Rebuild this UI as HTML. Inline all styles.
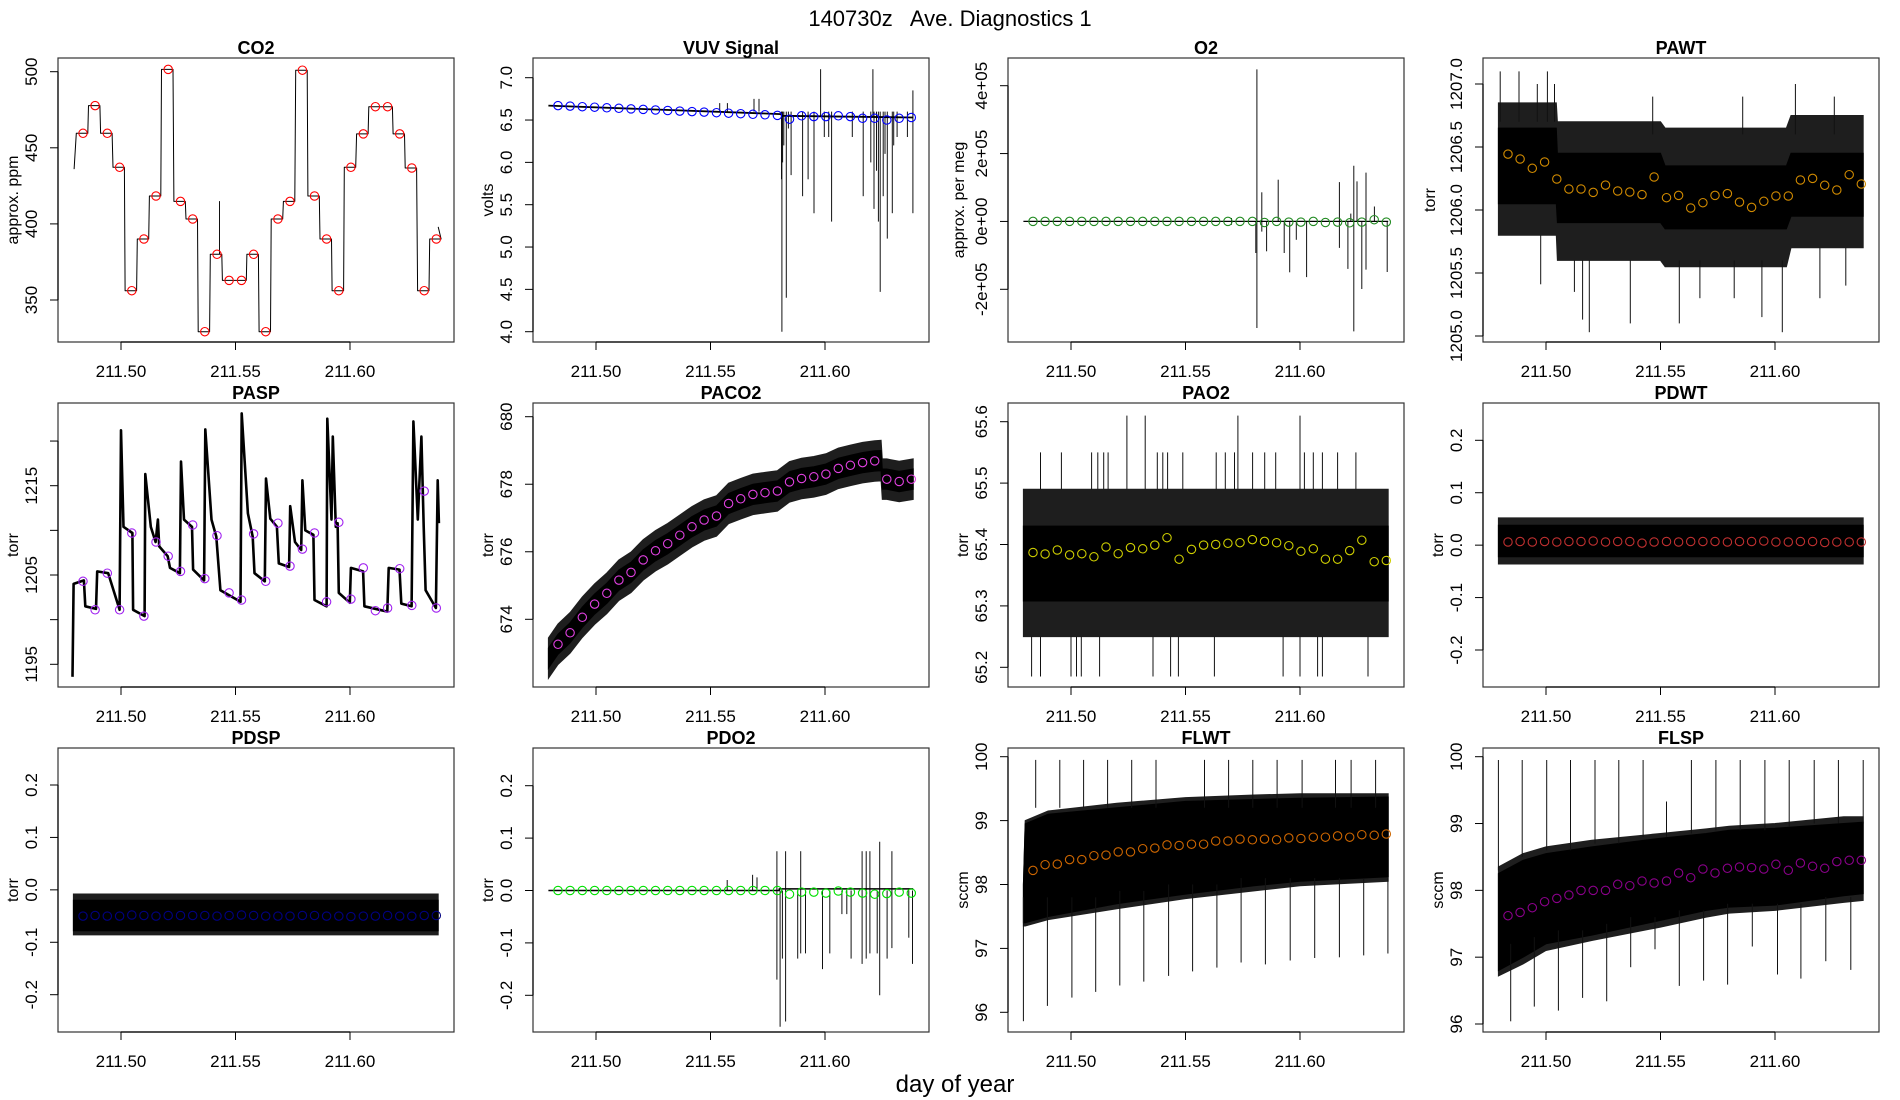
<!DOCTYPE html>
<html><head><meta charset="utf-8"><style>
html,body{margin:0;padding:0;background:#fff;}
svg{display:block;font-family:"Liberation Sans",Arial,sans-serif;}
</style></head><body>
<svg id="fig" width="1900" height="1100" viewBox="0 0 1900 1100" xmlns="http://www.w3.org/2000/svg">
<text x="950" y="26" text-anchor="middle" font-size="22" xml:space="preserve">140730z   Ave. Diagnostics 1</text>
<text x="955" y="1092" text-anchor="middle" font-size="24">day of year</text>
</svg>
<script>
// ---- shared data ----
const circT=[211.4834,211.4887,211.4940,211.4994,211.5047,211.5100,211.5153,211.5206,211.5260,211.5313,211.5366,211.5419,211.5472,211.5526,211.5579,211.5632,211.5685,211.5738,211.5792,211.5845,211.5898,211.5951,211.6004,211.6058,211.6111,211.6164,211.6217,211.6270,211.6324,211.6377];
const xTicks=[211.50,211.55,211.60];
const xTickLabels=["211.50","211.55","211.60"];
// CO2
const co2Vals=[459.5,477.7,459.5,437.2,356.1,390.1,418.3,501.5,414.8,403.2,329.2,380,362.9,362.9,380,329.2,403.2,414.8,501,418.3,390.1,356.1,437.2,459.1,477,477,459.1,436.7,356.1,390.1];
const co2Start=[436];const co2End=[398];
const co2SpikeT=[211.5430];const co2SpikeLo=[380];const co2SpikeHi=[415];
// VUV
const vuvVals=[6.67,6.664,6.657,6.651,6.645,6.638,6.632,6.626,6.619,6.613,6.606,6.600,6.594,6.587,6.581,6.575,6.568,6.562,6.555,6.51,6.55,6.54,6.54,6.55,6.54,6.52,6.52,6.50,6.52,6.53];
const vuvLineT=[211.4792,211.5808,211.5812,211.6385];
const vuvLineV=[6.67,6.57,6.55,6.53];
const vuvSpikeT=[211.5810,211.5812,211.5831,211.5852,211.5902,211.5926,211.5952,211.5997,211.6016,211.6029,211.6119,211.6167,211.6214,211.6233,211.6241,211.6254,211.6272,211.6294,211.6315,211.6360,211.6384,211.5981,211.6209,211.5540,211.5574,211.5690,211.5712,211.6384,211.5815,211.5820,211.5840,211.6200,211.6225,211.6262,211.6300];
const vuvSpikeLo=[5.8,4.0,4.4,5.85,5.6,5.8,5.4,6.3,6.3,5.3,6.3,5.6,5.45,5.3,4.47,5.6,5.1,5.4,6.3,6.3,5.4,6.55,6.55,6.6,6.6,6.6,6.6,6.55,6.0,6.2,6.4,6.0,5.9,6.1,6.2];
const vuvSpikeHi=[6.6,6.6,6.6,6.6,6.6,6.6,6.6,6.6,6.6,6.6,6.6,6.6,6.6,6.6,6.6,6.6,6.6,6.6,6.6,6.6,6.6,7.1,7.1,6.7,6.7,6.75,6.75,6.85,6.6,6.6,6.6,6.6,6.6,6.6,6.6];
// O2
const o2Vals=[0,0,0,0,0,0,0,0,0,0,0,0,0,0,0,0,0,0,0,-3000,0,-2000,-2000,0,-3000,-2000,-4000,-2000,5000,-2000];
const o2LineT=[211.4792,211.6385];const o2LineV=[0,0];
const o2SpikeT=[211.5812,211.5807,211.5833,211.5854,211.5905,211.5931,211.5955,211.5984,211.6029,211.6172,211.6209,211.6222,211.6235,211.6249,211.6270,211.6288,211.6325,211.6381,211.5701];
const o2SpikeLo=[-314000,-93000,-30000,-88000,0,-93000,-150000,-54000,-164000,-78000,-140000,0,-324000,0,-199000,-142000,0,-149000,-10000];
const o2SpikeHi=[448000,0,86000,0,123000,0,0,0,0,116000,0,23000,164000,118000,0,144000,44000,0,10000];
// PAWT
const pawtVals=[1206.444,1206.405,1206.331,1206.381,1206.246,1206.167,1206.167,1206.140,1206.198,1206.151,1206.143,1206.122,1206.262,1206.098,1206.116,1206.016,1206.058,1206.116,1206.130,1206.063,1206.021,1206.069,1206.111,1206.111,1206.238,1206.251,1206.196,1206.159,1206.280,1206.206];
const pawtBandT=[211.4792,211.5045,211.5050,211.5500,211.5520,211.6050,211.6070,211.6385];
const pawtInHi=[1206.65,1206.65,1206.45,1206.45,1206.35,1206.35,1206.45,1206.45];
const pawtInLo=[1206.05,1206.05,1205.9,1205.9,1205.85,1205.85,1205.95,1205.95];
const pawtOutHi=[1206.85,1206.85,1206.7,1206.7,1206.65,1206.65,1206.75,1206.75];
const pawtOutLo=[1205.8,1205.8,1205.6,1205.6,1205.55,1205.55,1205.7,1205.7];
const pawtSpikeT=[211.4800,211.4882,211.5006,211.4962,211.5037,211.6089,211.5466,211.5859,211.6259,211.4977,211.5160,211.5189,211.5368,211.5582,211.5672,211.5822,211.5943,211.6032,211.6196,211.6309,211.5124];
const pawtSpikeLo=[1206.7,1206.7,1206.7,1206.7,1206.7,1206.6,1206.6,1206.6,1206.6,1205.41,1205.13,1205.03,1205.1,1205.1,1205.3,1205.3,1205.15,1205.03,1205.3,1205.4,1205.35];
const pawtSpikeHi=[1207.1,1207.1,1207.1,1207.0,1207.0,1207.0,1206.9,1206.9,1206.9,1205.8,1205.6,1205.6,1205.6,1205.6,1205.6,1205.6,1205.6,1205.6,1205.7,1205.7,1205.6];
// PASP
const paspVals=[1204.3,1201.1,1205.2,1201.1,1209.7,1200.4,1208.7,1207.1,1205.4,1210.6,1204.6,1209.4,1203.0,1202.2,1209.6,1204.3,1210.8,1206.0,1207.9,1209.7,1202.0,1210.9,1202.3,1205.8,1201.0,1201.3,1205.7,1201.6,1214.4,1201.3];
const paspLineT=[211.4788,211.4793,211.4838,211.4844,211.4891,211.4896,211.4944,211.4994,211.5000,211.5011,211.5050,211.5053,211.5103,211.5106,211.5130,211.5151,211.5161,211.5167,211.5204,211.5214,211.5257,211.5262,211.5275,211.5310,211.5315,211.5363,211.5368,211.5395,211.5416,211.5434,211.5522,211.5527,211.5554,211.5575,211.5583,211.5628,211.5633,211.5652,211.5681,211.5689,211.5734,211.5739,211.5760,211.5787,211.5792,211.5805,211.5840,211.5845,211.5898,211.5901,211.5919,211.5925,211.5938,211.5946,211.5951,211.5999,211.6004,211.6057,211.6063,211.6163,211.6169,211.6216,211.6224,211.6269,211.6277,211.6296,211.6312,211.6322,211.6330,211.6375,211.6383,211.6388];
const paspLineV=[1193.6,1204.0,1204.4,1201.5,1201.2,1205.4,1205.2,1201.1,1221.2,1210.4,1209.7,1201.1,1200.4,1216.3,1210.4,1208.7,1211.2,1208.2,1207.1,1205.8,1205.2,1217.7,1211.2,1210.4,1205.6,1204.4,1221.3,1211.2,1209.3,1203.3,1202.0,1223.1,1211.9,1209.3,1205.2,1204.3,1215.8,1211.3,1210.4,1206.3,1205.9,1212.7,1208.7,1207.8,1215.6,1210.0,1209.5,1202.2,1201.5,1222.5,1211.2,1220.5,1210.4,1210.8,1203.0,1201.9,1205.8,1205.4,1201.5,1200.9,1205.8,1205.6,1201.8,1201.5,1222.2,1211.2,1220.5,1210.4,1203.3,1201.3,1215.6,1210.8];
// PACO2
const paco2Vals=[673.26,673.60,674.06,674.45,674.77,675.16,675.39,675.76,676.03,676.24,676.49,676.74,676.94,677.06,677.43,677.57,677.70,677.75,677.80,678.07,678.17,678.22,678.30,678.47,678.56,678.64,678.69,678.15,678.08,678.15];
const paco2BandT=[211.4792,211.4834,211.4887,211.4940,211.4994,211.5047,211.5100,211.5153,211.5206,211.5260,211.5313,211.5366,211.5419,211.5472,211.5526,211.5579,211.5632,211.5685,211.5738,211.5792,211.5845,211.5898,211.5951,211.6004,211.6058,211.6111,211.6164,211.6217,211.6245,211.6250,211.6270,211.6324,211.6385];
const paco2BandMid=[672.85,673.26,673.60,674.06,674.45,674.77,675.16,675.39,675.76,676.03,676.24,676.49,676.74,676.94,677.06,677.43,677.57,677.70,677.75,677.80,678.07,678.17,678.22,678.30,678.47,678.56,678.64,678.69,678.70,678.15,678.15,678.08,678.15];
const paco2InHalf=[0.3];const paco2OutHalf=[0.6];
// PAO2
const pao2Vals=[65.387,65.3845,65.391,65.383,65.385,65.380,65.396,65.385,65.395,65.393,65.399,65.411,65.376,65.392,65.399,65.400,65.402,65.403,65.408,65.405,65.403,65.398,65.389,65.393,65.376,65.376,65.390,65.407,65.372,65.374];
const pao2BandT=[211.4792,211.6385];
const pao2InHi=[65.43,65.43];const pao2InLo=[65.308,65.308];
const pao2OutHi=[65.49,65.49];const pao2OutLo=[65.25,65.25];
const pao2SpikeT=[211.5244,211.5324,211.5729,211.6000,211.4867,211.4958,211.5090,211.5117,211.5143,211.5162,211.5377,211.5401,211.5422,211.5488,211.5634,211.5674,211.5714,211.5793,211.5846,211.5894,211.6019,211.6058,211.6098,211.6164,211.6244,211.4828,211.4867,211.5000,211.5024,211.5045,211.5125,211.5358,211.5435,211.5469,211.5626,211.5926,211.6000,211.6077,211.6098,211.6297];
const pao2SpikeLo=[65.49,65.49,65.49,65.49,65.49,65.49,65.49,65.49,65.49,65.49,65.49,65.49,65.49,65.49,65.49,65.49,65.49,65.49,65.49,65.49,65.49,65.49,65.49,65.49,65.49,65.185,65.185,65.185,65.185,65.185,65.185,65.185,65.185,65.185,65.185,65.185,65.185,65.185,65.185,65.185];
const pao2SpikeHi=[65.61,65.61,65.61,65.61,65.55,65.55,65.55,65.55,65.55,65.55,65.55,65.55,65.55,65.55,65.55,65.55,65.55,65.55,65.55,65.55,65.55,65.55,65.55,65.55,65.55,65.25,65.25,65.25,65.25,65.25,65.25,65.25,65.25,65.25,65.25,65.25,65.25,65.25,65.25,65.25];
// PDWT
const pdwtVals=[0.006,0.007,0.006,0.007,0.006,0.007,0.007,0.008,0.006,0.007,0.007,0.004,0.006,0.007,0.006,0.007,0.007,0.007,0.006,0.007,0.007,0.008,0.006,0.006,0.007,0.007,0.005,0.006,0.006,0.006];
const pdwtBandT=[211.4792,211.6385];
const pdwtInHi=[0.038,0.038];const pdwtInLo=[-0.022,-0.022];
const pdwtOutHi=[0.052,0.052];const pdwtOutLo=[-0.036,-0.036];
// PDSP
const pdspVals=[-0.050,-0.049,-0.050,-0.050,-0.048,-0.049,-0.050,-0.049,-0.049,-0.049,-0.049,-0.050,-0.049,-0.048,-0.049,-0.050,-0.050,-0.050,-0.049,-0.049,-0.050,-0.050,-0.051,-0.050,-0.050,-0.049,-0.050,-0.050,-0.049,-0.049];
const pdspBandT=[211.4792,211.6385];
const pdspInHi=[-0.02,-0.02];const pdspInLo=[-0.078,-0.078];
const pdspOutHi=[-0.008,-0.008];const pdspOutLo=[-0.086,-0.086];
// PDO2
const pdo2Vals=[0,0,0,0,0,0,0,0,0,0,0,0,0,0,0,0,0,0,0,-0.007,-0.003,-0.003,-0.005,-0.001,-0.003,-0.005,-0.007,-0.006,-0.003,-0.005];
const pdo2LineT=[211.4792,211.5800,211.5800,211.6385];const pdo2LineV=[0,0,0.003,0.003];
const pdo2SpikeT=[211.5790,211.5804,211.5828,211.5814,211.5881,211.5894,211.5915,211.5989,211.6021,211.6074,211.6095,211.6114,211.6162,211.6180,211.6196,211.6228,211.6239,211.6271,211.6292,211.6366,211.6382,211.5684,211.5573,211.5703];
const pdo2SpikeLo=[-0.17,-0.26,-0.25,-0.13,-0.13,-0.12,-0.12,-0.15,-0.12,-0.045,-0.045,-0.13,-0.14,-0.13,-0.12,-0.12,-0.2,-0.13,-0.11,-0.09,-0.14,0,0,0];
const pdo2SpikeHi=[0.075,0,0.075,0,0,0.075,0,0,0,0,0,0,0.075,0.075,0.075,0,0.093,0,0.075,0,0,0.03,0.02,0.025];
// FLWT
const flwtVals=[98.22,98.31,98.32,98.39,98.39,98.45,98.46,98.51,98.51,98.56,98.57,98.62,98.61,98.63,98.63,98.68,98.68,98.71,98.70,98.71,98.70,98.73,98.72,98.74,98.74,98.76,98.74,98.78,98.77,98.79];
const flwtBandT=[211.4792,211.4800,211.4900,211.5200,211.5500,211.5800,211.6000,211.6385];
const flwtInHi=[98.0,98.95,99.1,99.2,99.3,99.33,99.35,99.37];
const flwtInLo=[97.4,97.4,97.5,97.7,97.85,97.98,98.05,98.12];
const flwtOutHi=[98.0,99.0,99.15,99.27,99.36,99.4,99.42,99.42];
const flwtOutLo=[97.35,97.35,97.45,97.62,97.78,97.9,97.98,98.05];
const flwtSpikeT=[211.4846,211.4951,211.5055,211.5160,211.5265,211.5371,211.5583,211.5688,211.5794,211.5900,211.6009,211.6155,211.6223,211.6330,211.4792,211.4897,211.5004,211.5108,211.5213,211.5318,211.5426,211.5531,211.5637,211.5743,211.5849,211.5957,211.6064,211.6172,211.6278,211.6384];
const flwtSpikeLo=[99.2,99.2,99.2,99.2,99.2,99.2,99.2,99.2,99.2,99.2,99.2,99.2,99.2,99.2,95.86,96.10,96.23,96.32,96.42,96.48,96.57,96.64,96.70,96.78,96.75,96.81,96.85,96.86,96.89,96.92];
const flwtSpikeHi=[99.95,99.95,99.95,99.95,99.95,99.95,99.95,99.95,99.95,99.95,99.95,99.95,99.95,99.95,97.8,97.8,97.8,97.8,97.9,97.9,98.0,98.0,98.0,98.1,98.1,98.1,98.1,98.1,98.1,98.1];
// FLSP
const flspVals=[97.62,97.67,97.74,97.83,97.88,97.93,98.00,98.00,98.00,98.09,98.07,98.14,98.11,98.14,98.26,98.19,98.32,98.26,98.33,98.35,98.34,98.32,98.39,98.30,98.41,98.36,98.33,98.43,98.45,98.45];
const flspBandT=[211.4792,211.4900,211.5000,211.5200,211.5500,211.5700,211.5800,211.6000,211.6300,211.6385];
const flspInHi=[98.25,98.45,98.55,98.65,98.78,98.85,98.9,98.93,99.0,99.02];
const flspInLo=[96.8,97.0,97.2,97.33,97.55,97.7,97.75,97.78,97.92,97.95];
const flspOutHi=[98.35,98.55,98.65,98.75,98.85,98.92,98.96,99.0,99.1,99.1];
const flspOutLo=[96.72,96.9,97.1,97.25,97.45,97.6,97.66,97.7,97.82,97.85];
const flspSpikeT=[211.4792,211.4896,211.5003,211.5107,211.5214,211.5318,211.5424,211.5526,211.5635,211.5742,211.5848,211.5956,211.6062,211.6171,211.6277,211.6385,211.4846,211.4949,211.5054,211.5160,211.5265,211.5370,211.5476,211.5582,211.5688,211.5793,211.5901,211.6011,211.6113,211.6222,211.6331];
const flspSpikeLo=[98.3,98.5,98.6,98.6,98.7,98.7,98.8,98.8,98.85,98.9,98.9,98.9,98.95,99.0,99.0,99.0,96.04,96.26,96.20,96.39,96.34,96.85,97.12,96.57,96.65,96.59,97.16,96.74,96.68,96.94,96.81];
const flspSpikeHi=[99.95,99.95,99.95,99.95,99.95,99.95,99.95,99.33,99.95,99.95,99.95,99.95,99.95,99.95,99.95,99.95,97.2,97.3,97.4,97.4,97.5,97.6,97.6,97.7,97.7,97.8,97.8,97.8,97.8,97.9,97.9];

// ---- layout ----
const X0=[58,533,1008,1483], Y0=[58,403,748], W=396, H=284;
const NS="http://www.w3.org/2000/svg";
const svg=document.getElementById('fig');
function add(tag,attrs,name,parent){
  const el=document.createElementNS(NS,tag);
  for(const k in attrs) el.setAttribute(k,attrs[k]);
  
  
  (parent||svg).appendChild(el);
  return el;
}
function panel(o){
  const xl=X0[o.c], yt=Y0[o.r], xr=xl+W, yb=yt+H;
  const g=add('g',{},o.key+'-panel');
  const sx=t=>xl+63+(t-211.5)*2290;
  const k=(o.ref[3]-o.ref[1])/(o.ref[2]-o.ref[0]);
  const sy=v=>o.ref[1]+(v-o.ref[0])*k;
  const clip=add('clipPath',{id:'clip-'+o.key},o.key+'-clip',g);
  add('rect',{x:xl,y:yt,width:W,height:H},o.key+'-clip-rect',clip);
  const plot=add('g',{'clip-path':'url(#clip-'+o.key+')'},o.key+'-plot-area',g);
  function poly(T,A,B,fill,name){
    let pts=[];
    for(let i=0;i<T.length;i++) pts.push(sx(T[i]).toFixed(1)+','+sy(A[i]).toFixed(1));
    for(let i=T.length-1;i>=0;i--) pts.push(sx(T[i]).toFixed(1)+','+sy(B[i]).toFixed(1));
    add('polygon',{points:pts.join(' '),fill:fill,stroke:fill,'stroke-width':1},name,plot);
  }
  if(o.outHi) poly(o.bandT,o.outHi,o.outLo,'#1e1e1e',o.key+'-outer-band');
  if(o.inHi) poly(o.bandT,o.inHi,o.inLo,'#000',o.key+'-inner-band');
  if(o.spT){
    for(let i=0;i<o.spT.length;i++){
      const x=sx(o.spT[i]).toFixed(1);
      add('line',{x1:x,x2:x,y1:sy(o.spLo[i]).toFixed(1),y2:sy(o.spHi[i]).toFixed(1),stroke:'#111','stroke-width':1},o.key+'-spike',plot);
    }
  }
  if(o.lineT){
    const d=o.lineT.map((t,i)=>(i?'L':'M')+sx(t).toFixed(1)+','+sy(o.lineV[i]).toFixed(1)).join(' ');
    add('path',{d:d,fill:'none',stroke:'#000','stroke-width':o.lw||1.2,'stroke-linejoin':'round'},o.key+'-series-line',plot);
  }
  if(o.vals){
    for(let i=0;i<o.vals.length;i++){
      add('circle',{cx:sx(circT[i]).toFixed(1),cy:sy(o.vals[i]).toFixed(1),r:4.2,fill:'none',stroke:o.col,'stroke-width':1.1},o.key+'-mean-point',plot);
    }
  }
  add('rect',{x:xl,y:yt,width:W,height:H,fill:'none',stroke:'#333','stroke-width':1.2},o.key+'-plot-frame',g);
  add('line',{x1:sx(xTicks[0]),x2:sx(xTicks[xTicks.length-1]),y1:yb,y2:yb,stroke:'#000','stroke-width':1.2},o.key+'-x-axis-line',g);
  xTicks.forEach((t,i)=>{
    add('line',{x1:sx(t),x2:sx(t),y1:yb,y2:yb+8,stroke:'#000'},o.key+'-x-tick',g);
    const tx=add('text',{x:sx(t),y:yb+35,'text-anchor':'middle','font-size':17},o.key+'-x-tick-label',g);
    tx.textContent=xTickLabels[i];
  });
  add('line',{x1:xl,x2:xl,y1:sy(o.yt[0]),y2:sy(o.yt[o.yt.length-1]),stroke:'#000','stroke-width':1.2},o.key+'-y-axis-line',g);
  o.yt.forEach((v,i)=>{
    const y=sy(v);
    add('line',{x1:xl-8,x2:xl,y1:y,y2:y,stroke:'#000'},o.key+'-y-tick',g);
    if(o.yl[i]!==''){
      const tx=add('text',{x:xl-21,y:y,'text-anchor':'middle','font-size':17,transform:'rotate(-90 '+(xl-21)+' '+y+')'},o.key+'-y-tick-label',g);
      tx.textContent=o.yl[i];
    }
  });
  const ly=yt+H/2, lx=xl-(o.labOff||40);
  const lab=add('text',{x:lx,y:ly,'text-anchor':'middle','font-size':16,transform:'rotate(-90 '+lx+' '+ly+')'},o.key+'-y-axis-title',g);
  lab.textContent=o.ylab;
  const ti=add('text',{x:xl+W/2,y:yt-4,'text-anchor':'middle','font-size':18,'font-weight':'bold'},o.key+'-panel-title',g);
  ti.textContent=o.title;
}
const co2LineT=[211.4795], co2LineV=[co2Start[0]];
for(let i=0;i<co2Vals.length;i++){
  co2LineT.push(circT[i]-0.0029); co2LineV.push(co2Vals[i]);
  co2LineT.push(circT[i]+0.0021); co2LineV.push(co2Vals[i]);
}
co2LineT.push(211.6385); co2LineV.push(co2End[0]);
const paco2InHi=paco2BandMid.map(v=>v+paco2InHalf[0]), paco2InLo=paco2BandMid.map(v=>v-paco2InHalf[0]);
const paco2OutHi=paco2BandMid.map(v=>v+paco2OutHalf[0]), paco2OutLo=paco2BandMid.map(v=>v-paco2OutHalf[0]);

panel({key:'co2',title:'CO2',c:0,r:0,ref:[500,71.7,350,300],yt:[350,400,450,500],yl:['350','400','450','500'],ylab:'approx. ppm',col:'#ff0000',vals:co2Vals,lineT:co2LineT,lineV:co2LineV,lw:1,spT:co2SpikeT,spLo:co2SpikeLo,spHi:co2SpikeHi});
panel({key:'vuv',title:'VUV Signal',c:1,r:0,ref:[7.0,77.7,4.0,331.7],yt:[4,4.5,5,5.5,6,6.5,7],yl:['4.0','4.5','5.0','5.5','6.0','6.5','7.0'],ylab:'volts',col:'#0000ff',vals:vuvVals,lineT:vuvLineT,lineV:vuvLineV,lw:1.8,spT:vuvSpikeT,spLo:vuvSpikeLo,spHi:vuvSpikeHi});
panel({key:'o2',title:'O2',c:2,r:0,ref:[400000,85.7,-200000,289.3],yt:[-200000,0,200000,400000],yl:['-2e+05','0e+00','2e+05','4e+05'],ylab:'approx. per meg',labOff:44,col:'#228b22',vals:o2Vals,lineT:o2LineT,lineV:o2LineV,lw:1.2,spT:o2SpikeT,spLo:o2SpikeLo,spHi:o2SpikeHi});
panel({key:'pawt',title:'PAWT',c:3,r:0,ref:[1207,84,1205,336],yt:[1205,1205.5,1206,1206.5,1207],yl:['1205.0','1205.5','1206.0','1206.5','1207.0'],ylab:'torr',labOff:48,col:'#d08a00',vals:pawtVals,bandT:pawtBandT,inHi:pawtInHi,inLo:pawtInLo,outHi:pawtOutHi,outLo:pawtOutLo,spT:pawtSpikeT,spLo:pawtSpikeLo,spHi:pawtSpikeHi});
panel({key:'pasp',title:'PASP',c:0,r:1,ref:[1215,485.7,1195,664.3],yt:[1195,1200,1205,1210,1215,1220],yl:['1195','','1205','','1215',''],ylab:'torr',col:'#a020f0',vals:paspVals,lineT:paspLineT,lineV:paspLineV,lw:2.6});
panel({key:'paco2',title:'PACO2',c:1,r:1,ref:[680,416.7,674,619.3],yt:[674,676,678,680],yl:['674','676','678','680'],ylab:'torr',col:'#e040e0',vals:paco2Vals,bandT:paco2BandT,inHi:paco2InHi,inLo:paco2InLo,outHi:paco2OutHi,outLo:paco2OutLo});
panel({key:'pao2',title:'PAO2',c:2,r:1,ref:[65.6,421.7,65.2,667.3],yt:[65.2,65.3,65.4,65.5,65.6],yl:['65.2','65.3','65.4','65.5','65.6'],ylab:'torr',col:'#cdcd00',vals:pao2Vals,bandT:pao2BandT,inHi:pao2InHi,inLo:pao2InLo,outHi:pao2OutHi,outLo:pao2OutLo,spT:pao2SpikeT,spLo:pao2SpikeLo,spHi:pao2SpikeHi});
panel({key:'pdwt',title:'PDWT',c:3,r:1,ref:[0.2,440.3,-0.2,650],yt:[-0.2,-0.1,0,0.1,0.2],yl:['-0.2','-0.1','0.0','0.1','0.2'],ylab:'torr',col:'#c03030',vals:pdwtVals,bandT:pdwtBandT,inHi:pdwtInHi,inLo:pdwtInLo,outHi:pdwtOutHi,outLo:pdwtOutLo});
panel({key:'pdsp',title:'PDSP',c:0,r:2,ref:[0.2,785,-0.2,994.7],yt:[-0.2,-0.1,0,0.1,0.2],yl:['-0.2','-0.1','0.0','0.1','0.2'],ylab:'torr',col:'#000080',vals:pdspVals,bandT:pdspBandT,inHi:pdspInHi,inLo:pdspInLo,outHi:pdspOutHi,outLo:pdspOutLo});
panel({key:'pdo2',title:'PDO2',c:1,r:2,ref:[0.2,785.7,-0.2,995.3],yt:[-0.2,-0.1,0,0.1,0.2],yl:['-0.2','-0.1','0.0','0.1','0.2'],ylab:'torr',col:'#00e000',vals:pdo2Vals,lineT:pdo2LineT,lineV:pdo2LineV,lw:1.5,spT:pdo2SpikeT,spLo:pdo2SpikeLo,spHi:pdo2SpikeHi});
panel({key:'flwt',title:'FLWT',c:2,r:2,ref:[100,756.7,96,1012.3],yt:[96,97,98,99,100],yl:['96','97','98','99','100'],ylab:'sccm',col:'#cd6600',vals:flwtVals,bandT:flwtBandT,inHi:flwtInHi,inLo:flwtInLo,outHi:flwtOutHi,outLo:flwtOutLo,spT:flwtSpikeT,spLo:flwtSpikeLo,spHi:flwtSpikeHi});
panel({key:'flsp',title:'FLSP',c:3,r:2,ref:[100,756.7,96,1024],yt:[96,97,98,99,100],yl:['96','97','98','99','100'],ylab:'sccm',col:'#8b008b',vals:flspVals,bandT:flspBandT,inHi:flspInHi,inLo:flspInLo,outHi:flspOutHi,outLo:flspOutLo,spT:flspSpikeT,spLo:flspSpikeLo,spHi:flspSpikeHi});
</script>
</body></html>
